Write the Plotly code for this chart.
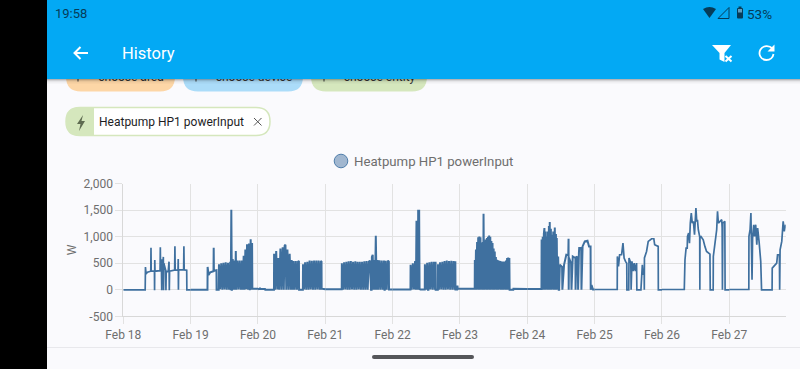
import re
from datetime import datetime, timedelta
import plotly.graph_objects as go

W_PX, H_PX = 800, 369
series_name = "Heatpump HP1 powerInput"
y_ticks = [-500, 0, 500, 1000, 1500, 2000]
y_tick_labels = ["-500", "0", "500", "1,000", "1,500", "2,000"]
day_labels = ["Feb 18", "Feb 19", "Feb 20", "Feb 21", "Feb 22", "Feb 23", "Feb 24", "Feb 25", "Feb 26", "Feb 27"]

# (hour of day, watts)
feb18 = [(0,0),(7.8,0),(7.9,430),(8.1,300),(8.6,330),(9.5,350),(9.8,350),(9.87,790),(9.95,350),(11.1,350),(11.15,-10),(11.22,560),(11.3,350),
 (13.1,360),(13.2,800),(13.3,360),(13.6,350),(13.7,-10),(13.8,560),(14.2,560),(14.27,620),(14.35,-10),(14.45,500),(15.1,370),(15.2,-10),(15.3,350),
 (16.0,340),(16.3,530),(16.4,-10),(16.5,350),(18.3,370),(18.4,820),(18.5,370),(19.5,375),(19.58,580),(19.65,0),(19.72,375),(21.5,375),(21.6,820),(21.7,375),(22.6,370),(22.65,0),(24,0)]
feb19 = [(0,0),(6.0,0),(6.05,430),(6.4,280),(7,330),(8,350),(8.15,350),(8.22,790),(8.3,360),(9.2,370),(9.25,0),(10.0,0),(10.1,480),(10.5,10),(10.9,500),(11.3,0),
 (11.7,510),(12.1,5),(12.5,520),(12.9,0),(13.3,510),(13.7,0),(14.1,530),(14.3,-10),(14.5,1510),(14.7,-20),(15,580),(15.3,0),(15.6,550),(15.9,0),(16.1,730),(16.3,0),
 (16.7,550),(17.1,5),(17.5,550),(17.9,0),(18.3,550),(18.6,0),(18.9,640),(19.2,0),(19.5,760),(19.8,10),(20.1,860),(20.5,0),(20.8,870),(21.1,-10),(21.4,950),(21.7,0),(21.9,880),(22,20),(24,20)]
feb20 = [(0,10),(0.6,20),(0.7,40),(0.8,20),(2.5,15),(2.6,0),(5.7,0),(5.75,680),(6.1,0),(6.5,730),(6.9,5),(7.2,600),(7.6,0),(8,780),(8.4,0),(8.8,800),(9.2,0),(9.5,830),(9.8,850),(10.1,0),(10.5,760),(10.9,0),
 (11.3,680),(11.7,0),(12,560),(12.4,0),(12.7,540),(13.1,0),(13.5,540),(13.9,0),(14.3,540),(14.6,530),(14.65,0),(16,0),(16.05,480),(16.4,5),(16.8,520),(17.2,0),(17.6,530),(18,0),(18.4,550),(18.8,5),
 (19.2,545),(19.6,0),(20,550),(20.4,0),(20.8,550),(21.2,5),(21.6,550),(22,0),(22.4,540),(22.65,530),(22.7,20),(24,10)]
feb21 = [(0,10),(5.85,10),(5.9,500),(6.3,0),(6.7,520),(7.1,5),(7.5,530),(7.9,0),(8.3,535),(8.7,0),(9.1,540),(9.5,5),(9.9,530),(10.3,0),(10.7,535),(11.1,0),(11.5,530),(11.9,5),(12.3,530),(12.7,0),(13.1,530),(13.5,0),(13.9,535),(14.3,0),
 (14.7,540),(15.1,0),(15.5,530),(15.9,550),(16.3,0),(16.5,0),(16.6,620),(16.9,660),(17.1,0),(17.4,560),(17.7,0),(18,1020),(18.3,0),(18.6,560),(18.9,0),(19.3,555),(19.7,0),(20.1,550),(20.5,0),(20.9,550),(21.1,0),(21.2,0),(21.5,545),(21.9,0),(22.3,550),(22.65,530),(22.7,5),(24,5)]
feb22 = [(0,5),(6.35,5),(6.4,470),(6.8,0),(7.2,500),(7.6,5),(8,540),(8.3,0),(8.5,1300),(8.7,0),(8.85,1300),(9.0,0),(9.1,1510),(9.3,0),(9.45,1510),(9.6,0),(9.65,1500),(9.7,5),(11.45,5),(11.5,480),(11.9,0),(12.3,510),(12.6,0),(12.75,0),(13.1,520),(13.5,5),(13.9,530),(14.3,0),(14.7,530),(15.1,0),(15.3,530),(15.35,0),
 (16.1,0),(16.15,480),(16.5,0),(16.9,520),(17.3,5),(17.7,530),(18.1,0),(18.5,540),(18.9,0),(19.3,550),(19.7,5),(20.1,540),(20.5,0),(20.9,545),(21.3,0),(21.7,540),(22.1,0),(22.35,540),(22.4,5),(23.0,5),(23.1,80),(23.2,20),(24,20)]
feb23 = [(0,20),(5.25,20),(5.3,560),(5.5,0),(5.7,760),(5.9,0),(6.1,900),(6.3,5),(6.5,990),(6.7,0),(6.9,1006),(7.1,0),(7.3,990),(7.5,5),(7.7,880),(7.9,0),(8.1,900),(8.3,0),(8.4,1434),(8.6,0),(8.8,912),(9.0,5),(9.2,950),(9.4,0),(9.6,975),(9.8,0),(10,1000),(10.2,5),(10.4,1025),(10.6,0),(10.8,1000),(11,0),(11.2,920),(11.4,5),(11.6,880),(11.8,0),(12,780),(12.2,0),(12.4,723),(12.6,5),(12.8,620),(13,0),(13.2,566),(13.4,0),(13.6,555),(13.8,0),(14,545),(14.2,10),(14.4,540),(14.6,0),(14.8,535),(15,0),(15.2,535),(15.4,0),(15.6,535),(15.8,5),(16,535),(16.2,0),(16.4,550),(16.6,0),(16.8,600),(17,0),(17.2,610),(17.4,0),(17.6,598),(17.7,0),(19,0),(19.05,20),(24,15)]
feb24 = [(0,15),(5.05,15),(5.1,950),(5.3,0),(5.5,1000),(5.7,0),(5.9,1060),(6.1,1164),(6.3,0),(6.5,1100),(6.7,5),(6.9,1006),(7.1,0),(7.3,1100),(7.5,0),(7.7,1200),(7.9,5),(8.0,1277),(8.2,0),(8.4,1150),(8.6,0),(8.85,1038),(9.05,5),(9.25,1100),(9.45,0),(9.65,1170),(9.8,1176),(10,0),(10.2,1050),(10.4,0),(10.5,975),(10.7,5),(11,629),(11.2,0),
 (11.35,0),(11.6,470),(12.0,440),(12.4,430),(12.5,0),(13.1,470),(13.9,660),(14.6,650),(14.7,960),(14.75,0),(14.85,600),(15.6,500),(15.75,0),(16.2,630),(16.9,600),(17.15,600),(17.2,0),(17.5,630),(18,600),(18.1,0),(18.4,700),(18.5,786),(19.2,786),(19.3,0),(19.7,818),(20.5,912),(21.45,925),(22,818),(22.55,818),(22.6,0),(22.9,90),(23.4,5),(24,5)]
feb25 = [(0,5),(8.05,5),(8.1,629),(8.5,440),(8.9,660),(9.6,660),(10.1,880),(10.5,600),(11,535),(11.45,500),(11.5,0),(12.15,0),(12.25,600),(12.9,500),(13,0),(13.3,535),(13.7,350),(14.1,503),(14.5,350),(14.95,503),(15.05,0),(16.5,0),(17,470),(17.3,283),(17.65,350),(17.7,0),(17.75,600),(18.5,723),(19.1,912),(20.3,962),(21.1,962),(21.4,849),(22.4,818),(22.65,818),(22.7,0),(24,0)]
feb26 = [(0,5),(7.95,5),(8.2,566),(8.6,786),(9.0,786),(9.1,1006),(9.5,1069),(9.8,880),(10.1,1258),(10.45,1447),(10.8,1258),(11.2,1290),(11.6,1038),(11.8,1258),(12.1,1541),(12.4,1290),(12.65,1320),(12.95,1132),(13.3,1006),(13.45,1000),(13.5,0),(13.55,1000),(13.9,1006),(14.7,943),(15.3,818),(15.9,723),(17.1,672),(17.2,0),(18.25,0),(18.3,629),(18.9,881),(19.5,1132),(19.8,1478),(20.1,1258),(21.3,1321),(21.45,1164),(21.55,0),(21.7,1258),(22.4,1290),(22.5,0),(24,0)]
feb27 = [(0,5),(6.95,5),(7,1006),(7.4,1132),(7.7,1447),(8.1,189),(8.3,975),(8.7,1227),(9,1006),(9.4,1227),(9.8,849),(10.1,1164),(10.6,912),(11.2,535),(11.5,0),(15.25,0),(15.3,409),(15.8,440),(16.9,503),(17.2,660),(17.85,660),(17.95,0),(18.1,755),(18.7,912),(19.2,1290),(19.6,1100),(20.08,1227)]
heavy_days = [(1, feb19), (2, feb20), (3, feb21), (4, feb22), (5, feb23), (6, feb24)]
light_days = [(0, feb18), (7, feb25), (8, feb26), (9, feb27)]

base = datetime(2023, 2, 18)

def series(days):
    xs, ys = [], []
    for i, day in days:
        for hour, watt in day:
            xs.append(base + timedelta(days=i, hours=hour))
            ys.append(watt)
        xs.append(None)
        ys.append(None)
    return xs, ys

# ---------- style ----------
BG = "#fafafd"
HEADER = "#03a9f4"
LINE = "#3f709f"
GRID = "#e2e2e2"
AXIS = "#d8d8d8"
GREY = "#6e6e6e"
GREEN = "#d5e7bd"
DARKICON = "#063c59"

def fx(x): return x / W_PX
def fy(y): return 1 - y / H_PX

def rect(x0, y0, x1, y1, color, opacity=1):
    return dict(type="rect", xref="paper", yref="paper", x0=fx(x0), x1=fx(x1), y0=fy(y0), y1=fy(y1),
                fillcolor=color, opacity=opacity, line=dict(width=0), layer="below")

def circle(cx, cy, r, color, line_color=None, line_width=0):
    return dict(type="circle", xref="paper", yref="paper", x0=fx(cx - r), x1=fx(cx + r), y0=fy(cy - r), y1=fy(cy + r),
                fillcolor=color, line=dict(width=line_width, color=line_color or color), layer="below")

def path(d, fill=None, stroke=None, width=0):
    parts = re.findall(r"([MLQCZ])([^MLQCZ]*)", d)
    fixed = []
    for cmd, body in parts:
        nums = [float(n) for n in re.findall(r"-?\d+\.?\d*", body)]
        pts = [f"{fx(nums[i]):.5f},{fy(nums[i + 1]):.5f}" for i in range(0, len(nums), 2)]
        fixed.append(cmd + " ".join(pts))
    return dict(type="path", xref="paper", yref="paper", path=" ".join(fixed),
                fillcolor=fill or "rgba(0,0,0,0)", line=dict(width=width, color=stroke or "rgba(0,0,0,0)"), layer="below")

def rrect(x0, y0, x1, y1, r, fill, stroke=None, width=0):
    d = (f"M{x0+r} {y0} L{x1-r} {y0} Q{x1} {y0} {x1} {y0+r} L{x1} {y1-r} Q{x1} {y1} {x1-r} {y1} "
         f"L{x0+r} {y1} Q{x0} {y1} {x0} {y1-r} L{x0} {y0+r} Q{x0} {y0} {x0+r} {y0} Z")
    return path(d, fill, stroke, width)

def label_box(x0, y0, x1, y1, text, size, color):
    return dict(type="rect", xref="paper", yref="paper", x0=fx(x0), x1=fx(x1), y0=fy(y0), y1=fy(y1),
                fillcolor="rgba(0,0,0,0)", line=dict(width=0), layer="below",
                label=dict(text=text, textposition="middle center", font=dict(family="Roboto", size=size, color=color)))

shapes = [
    rrect(66, 62, 175, 91.5, 15, "#fdd6a6"),
    rrect(183, 62, 303, 91.5, 15, "#abdcf9"),
    rrect(311, 62, 427, 91.5, 15, GREEN),
    label_box(98, 68, 164, 83, "choose area", 12, "#333333"),
    label_box(216, 68, 292, 83, "choose device", 12, "#333333"),
    label_box(344, 68, 415, 83, "choose entity", 12, "#333333"),
    rect(77.5, 72, 78.5, 81.5, "#333333"),
    rect(195.5, 72, 196.5, 81.5, "#333333"),
    rect(323.5, 72, 324.5, 81.5, "#333333"),
    rect(47, 79, 800, 80, "#000000", 0.28),
    rect(47, 80, 800, 81, "#000000", 0.16),
    rect(47, 81, 800, 82, "#000000", 0.08),
    rect(47, 82, 800, 83, "#000000", 0.04),
    rect(47, 83, 800, 84, "#000000", 0.02),
    rect(47, 0, 800, 79, HEADER),
    rect(0, 0, 47, 369, "#000000"),
    path("M88 53 L75 53 M80.5 47 L74.5 53 L80.5 59", None, "#ffffff", 2),
    path("M712 45 L731 45 L724.5 53 L724.5 62 L719.5 59.5 L719.5 53 Z", "#ffffff"),
    path("M725.5 56 L731.5 61.5 M731.5 56 L725.5 61.5", None, "#ffffff", 2),
    path("M772.5 48.5 C769 45 763 45.5 760.5 49.5 C758 54 760.5 60 766.5 60 C770 60 773 57.5 773.5 54", None, "#ffffff", 1.8),
    path("M774.5 44.5 L774.5 51.5 L767.5 51.5 Z", "#ffffff"),
    path("M703 9 Q709.5 5 716 9 L709.5 18 Z", DARKICON),
    path("M718 18.5 L729 18.5 L729 7.5 Z", None, DARKICON, 1),
    rrect(737, 8, 743, 18.5, 1, DARKICON),
    rect(738.5, 6.5, 741.5, 8.5, DARKICON),
    rect(738, 9, 742, 12.5, "#5f9cbf"),
    rrect(66, 107.5, 270, 135.5, 14, "#ffffff", GREEN, 1.5),
    path("M94 107 L80 107 Q66 107 66 121.5 Q66 136 80 136 L94 136 Z", GREEN),
    path("M83 115 L77 124 L80.5 124 L79 131 L85 121 L81.5 121 Z", "#5e6b50"),
    path("M254 118 L261.5 125.5 M261.5 118 L254 125.5", None, "#555555", 1),
    circle(341, 161, 6.8, "#a1b7d0", "#4f7eab", 1),
    rect(47, 347, 800, 348, "#e8e8ec"),
    rrect(372, 355, 474, 359, 2, "#55565a"),
]

def note(x, y, text, size, color, anchor="left"):
    return dict(x=fx(x), y=fy(y), xref="paper", yref="paper", text=text, showarrow=False,
                xanchor=anchor, yanchor="middle", font=dict(family="Roboto", size=size, color=color))

annotations = [
    note(53, 13.5, "19:58", 13, DARKICON),
    note(120, 53, "History", 16.5, "#ffffff"),
    note(745, 13.5, "53%", 13.5, DARKICON),
    note(97, 122, series_name, 12, "#1d1d1f"),
    note(352, 161, series_name, 13.2, GREY),
]

heavy_x, heavy_y = series(heavy_days)
light_x, light_y = series(light_days)
fig = go.Figure([
    go.Scatter(x=heavy_x, y=heavy_y, mode="lines", name=series_name, line=dict(color=LINE, width=2), hoverinfo="skip"),
    go.Scatter(x=light_x, y=light_y, mode="lines", name=series_name, line=dict(color=LINE, width=1.7), hoverinfo="skip"),
])

x_end = base + timedelta(days=9, hours=20.1)
fig.update_layout(
    width=W_PX, height=H_PX, autosize=False, showlegend=False,
    margin=dict(l=0, r=0, t=0, b=0, pad=0),
    paper_bgcolor=BG, plot_bgcolor="rgba(0,0,0,0)",
    font=dict(family="Roboto", size=12, color=GREY),
    shapes=shapes, annotations=annotations,
    xaxis=dict(domain=[123.3 / W_PX, 785.7 / W_PX], type="date", range=[base, x_end], automargin=False,
               tickmode="array", tickvals=[base + timedelta(days=i) for i in range(10)], ticktext=day_labels,
               showgrid=True, gridcolor=GRID, gridwidth=1, ticks="outside", ticklen=7, tickcolor=GRID,
               showline=True, linecolor=AXIS, zeroline=False, tickfont=dict(family="Roboto", size=12, color=GREY)),
    yaxis=dict(domain=[1 - 316.3 / H_PX, 1 - 183.7 / H_PX], range=[-500, 2000], automargin=False,
               tickmode="array", tickvals=y_ticks, ticktext=y_tick_labels,
               showgrid=True, gridcolor=GRID, gridwidth=1, ticks="outside", ticklen=7, tickcolor=GRID,
               showline=True, linecolor=AXIS, zeroline=False, tickfont=dict(family="Roboto", size=12, color=GREY),
               title=dict(text="W", standoff=4, font=dict(family="Roboto", size=12, color=GREY))),
)
fig.write_html("out.html", config={"displayModeBar": False},
               post_script="document.body.style.margin='0';document.documentElement.style.overflow='hidden';document.body.style.background='#fafafd';")
